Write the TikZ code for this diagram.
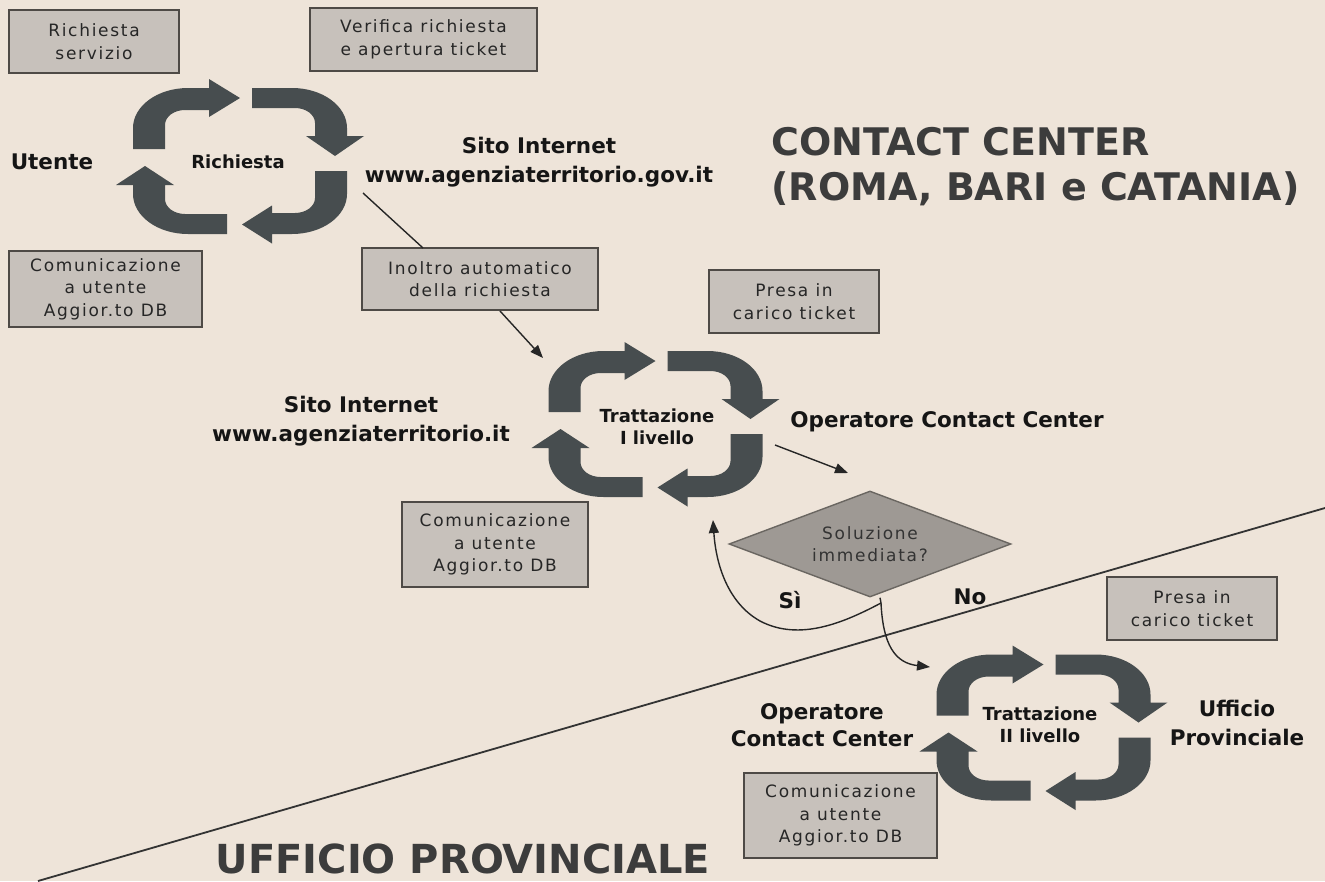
\documentclass[tikz,border=0pt]{standalone}
\usepackage{fontspec}
\setmainfont{DejaVu Sans}
\newfontfamily\boxfont[LetterSpace=10]{DejaVu Sans}
\usetikzlibrary{shapes.geometric,arrows.meta}
\definecolor{bgc}{HTML}{EEE4D9}
\definecolor{boxfill}{HTML}{C7C1BB}
\definecolor{boxline}{HTML}{4E4A46}
\definecolor{cycc}{HTML}{474D4F}
\definecolor{decfill}{HTML}{9E9994}
\definecolor{decline}{HTML}{6A6661}
\definecolor{titlec}{HTML}{3C3C3C}
\definecolor{labc}{HTML}{151515}
\tikzset{
 cycfill/.style={fill=cycc},
 infobox/.style={draw=boxline, line width=1.8pt, fill=boxfill, align=center, inner sep=0pt, text=black!85, font=\boxfont\fontsize{17}{22.5}\selectfont},
 lab/.style={align=center, text=labc, font=\bfseries\fontsize{21.5}{29}\selectfont},
 cyclab/.style={align=center, text=labc, font=\bfseries\fontsize{18}{22.5}\selectfont},
 bigtitle/.style={align=left, text=titlec, font=\bfseries\fontsize{38}{45}\selectfont},
 conn/.style={line width=1.4pt, draw=black!85},
 arrowend/.style={-{Triangle[length=13pt,width=10pt]}}
}
% one quarter arrow in a local frame (p,q)
% #1 Da, #2 Db, #3 start q, #4 start thickness, #5 end thickness, #6 head half width, #7 tip p, #8 head base p
% corner radii \Rp \Rq (outer), \rip \riq (inner), head offset \ho
\newcommand\cycarrow[8]{%
 \fill[cycfill] (#1,#3) -- (#1,{#2-\Rq}) .. controls (#1,{#2-0.4477*\Rq}) and ({#1-0.4477*\Rp},#2) .. ({#1-\Rp},#2)
  -- (#8,#2) -- (#8,{#2-#5/2+\ho+#6}) -- (#7,{#2-#5/2+\ho}) -- (#8,{#2-#5/2+\ho-#6}) -- (#8,{#2-#5})
  -- ({#1-#4-\rip},{#2-#5}) .. controls ({#1-#4-0.4477*\rip},{#2-#5}) and ({#1-#4},{#2-#5-0.4477*\riq}) .. ({#1-#4},{#2-#5-\riq})
  -- ({#1-#4},#3) -- cycle;}
\newcommand\hendset{\def\Rp{55}\def\Rq{40}\def\rip{20}\def\riq{15}\def\ho{1}}
\newcommand\vendset{\def\Rp{40}\def\Rq{55}\def\rip{15}\def\riq{20}\def\ho{4}}
\newcommand\drawcycle[2]{%
 \begin{scope}[shift={(#1,#2)}]
  \begin{scope}[cm={-1,0,0,1,(0,0)},x=1pt,y=1pt]\hendset\cycarrow{107}{73}{12}{32}{22}{19}{0}{31}\end{scope}
  \begin{scope}[cm={0,1,1,0,(0,0)},x=1pt,y=1pt]\vendset\cycarrow{73}{107}{12}{20}{32}{29}{5}{25}\end{scope}
  \begin{scope}[cm={1,0,0,-1,(0,0)},x=1pt,y=1pt]\hendset\cycarrow{107}{73}{10}{32}{21}{19}{2}{32}\end{scope}
  \begin{scope}[cm={0,-1,-1,0,(0,0)},x=1pt,y=1pt]\vendset\cycarrow{73}{107}{13}{20}{32}{29}{5}{24}\end{scope}
 \end{scope}}
\begin{document}
\begin{tikzpicture}[x=1pt,y=-1pt]
\useasboundingbox (0,0) rectangle (1325,881);
\fill[bgc] (0,0) rectangle (1325,881);
% diagonal boundary
\coordinate (dl1) at (38,881);
\coordinate (dl2) at (1325,508);
\draw[line width=1.8pt, draw=black!80] (dl1) -- (dl2);
% cycles
\drawcycle{240}{161}
\drawcycle{655.5}{424}
\drawcycle{1043.5}{727.5}
% boxes
\node[infobox, minimum width=170pt, minimum height=63pt] (b1) at (94,41.5) {Richiesta\\servizio};
\node[infobox, minimum width=227pt, minimum height=63pt] (b2) at (423.5,39.5) {Verifica richiesta\\e apertura ticket};
\node[infobox, minimum width=193pt, minimum height=76pt] (b3) at (105.5,289) {Comunicazione\\a utente\\Aggior.to DB};
\node[infobox, minimum width=236pt, minimum height=62pt] (b4) at (480,279) {Inoltro automatico\\della richiesta};
\node[infobox, minimum width=170pt, minimum height=63pt] (b5) at (794,301.5) {Presa in\\carico ticket};
\node[infobox, minimum width=186pt, minimum height=85pt] (b6) at (495,544.5) {Comunicazione\\a utente\\Aggior.to DB};
\node[infobox, minimum width=170pt, minimum height=63pt] (b7) at (1192,608.5) {Presa in\\carico ticket};
\node[infobox, minimum width=193pt, minimum height=85pt] (b8) at (840.5,815.5) {Comunicazione\\a utente\\Aggior.to DB};
% decision
\node[diamond, aspect=2.66, draw=decline, line width=1.4pt, fill=decfill, minimum width=282pt, minimum height=106pt, inner sep=0pt, align=center, text=black!80, font=\boxfont\fontsize{17}{22.5}\selectfont] (dec) at (870,544) {Soluzione\\immediata?};
% labels
\node[lab] (utente) at (52,162) {Utente};
\node[cyclab] (ric) at (238,162) {Richiesta};
\node[lab] (gov) at (539,162) {Sito Internet\\www.agenziaterritorio.gov.it};
\node[lab] (sito2) at (361,421) {Sito Internet\\www.agenziaterritorio.it};
\node[cyclab] (tr1) at (657,427) {Trattazione\\I livello};
\node[lab] (opcc) at (947,422) {Operatore Contact Center};
\node[cyclab] (tr2) at (1040,725) {Trattazione\\II livello};
\node[lab, font=\bfseries\fontsize{21.5}{27}\selectfont] (opcc2) at (822,725) {Operatore\\Contact Center};
\node[lab] (uffp) at (1237,723) {Ufficio\\Provinciale};
\node[lab] (si) at (790,600) {Sì};
\node[lab] (no) at (970,597) {No};
\node[bigtitle, anchor=west] (cc) at (768,167) {CONTACT CENTER\\(ROMA, BARI e CATANIA)};
\node[bigtitle, font=\bfseries\fontsize{40}{48}\selectfont] (up) at (463,859) {UFFICIO PROVINCIALE};
% connectors
\coordinate (gova) at (363,193);
\coordinate (b4top) at (423,248);
\coordinate (b4bot) at (500,311);
\coordinate (c2in) at (543,358);
\coordinate (c2out) at (775,445);
\coordinate (decin) at (848,473);
\coordinate (split) at (881,603);
\coordinate (c2back) at (713,520);
\coordinate (c3in) at (930,667);
\draw[conn] (gova) -- (b4top);
\draw[conn, arrowend] (b4bot) -- (c2in);
\draw[conn, arrowend] (c2out) -- (decin);
\draw[conn] (dec.south) ++(10,0) -- (split);
\draw[conn, arrowend] (split) .. controls (845,622) and (800,642) .. (760,621) .. controls (728,603) and (716,565) .. (c2back);
\draw[conn, arrowend] (split) .. controls (883,645) and (895,663) .. (c3in);
\end{tikzpicture}
\end{document}
